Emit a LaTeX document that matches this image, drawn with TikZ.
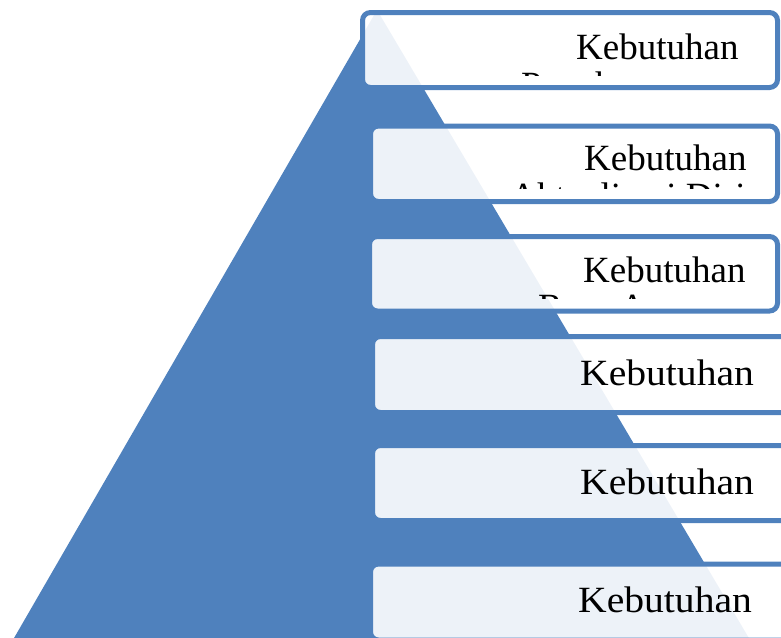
\documentclass[tikz,border=0pt]{standalone}
\usepackage{fontspec}
\setmainfont{Liberation Serif}
\definecolor{pyr}{HTML}{4F81BD}
\begin{document}
\begin{tikzpicture}[x=1pt,y=-1pt,
  lvl/.style={draw=pyr, line width=5pt, rounded corners=8pt, fill=white, fill opacity=0.9},
  lbl/.style={anchor=base west, inner sep=0pt, font=\fontsize{37}{40}\selectfont, text=black}]
\useasboundingbox (0,0) rectangle (781,637);
\clip (0,0) rectangle (781,637);
% pyramid
\fill[pyr] (377,10) -- (753,645) -- (10,645) -- cycle;
% level boxes
\draw[lvl] (362.5,12.5) rectangle (777.5,87.5);
\draw[lvl] (370.5,126) rectangle (777.5,201.5);
\draw[lvl] (369.5,236.5) rectangle (777.5,311);
\draw[lvl] (372.5,336.5) rectangle (800,412.5);
\draw[lvl] (372.5,445.5) rectangle (800,520.5);
\draw[lvl] (370.5,564) rectangle (800,640);
% labels
\node[lbl] (t1) at (576,59) {Kebutuhan};
\begin{scope}
  \clip (360,15) rectangle (781,75);
  \node[lbl] (t1b) at (521,97) {Penghargaan};
\end{scope}
\node[lbl] (t2) at (584,170) {Kebutuhan};
\begin{scope}
  \clip (360,129) rectangle (781,188.5);
  \node[lbl] (t2b) at (510,208) {Aktualisasi Diri};
\end{scope}
\node[lbl] (t3) at (583,282) {Kebutuhan};
\begin{scope}
  \clip (360,239) rectangle (781,298);
  \node[lbl] (t3b) at (538,319) {Rasa Aman};
\end{scope}
\node[lbl] (t4) at (580,385) {\scalebox{1.07}[1]{Kebutuhan}};
\node[lbl] (t5) at (580,494) {\scalebox{1.07}[1]{Kebutuhan}};
\node[lbl] (t6) at (578,612) {\scalebox{1.07}[1]{Kebutuhan}};
\end{tikzpicture}
\end{document}
